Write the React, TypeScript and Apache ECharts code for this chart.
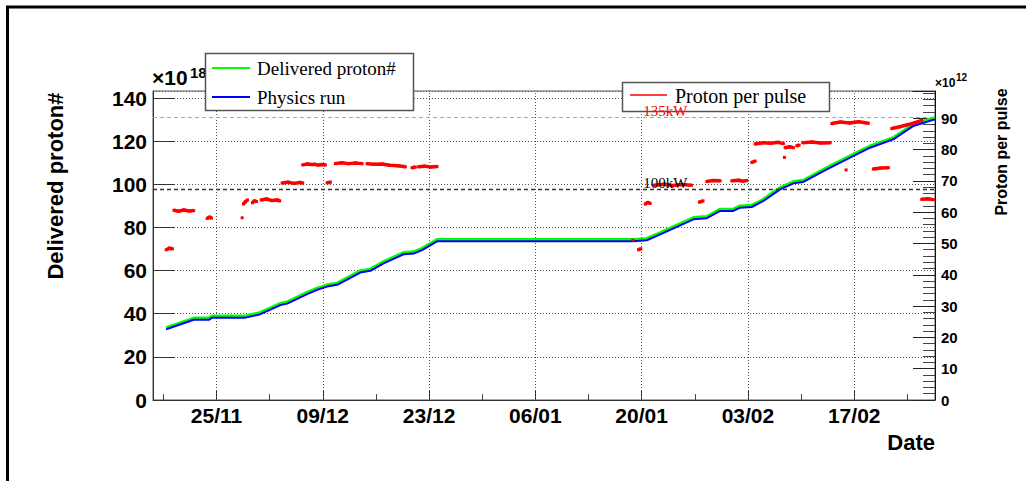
import React, { useEffect, useRef } from "react";
import * as echarts from "echarts";

// x values are days counted from 25/11/2010
const X_MIN = -8.36;
const X_MAX = 94.64;
const TICK_DAYS = [0, 14, 28, 42, 56, 70, 84];
const TICK_LABELS = ["25/11", "09/12", "23/12", "06/01", "20/01", "03/02", "17/02"];
const MINOR_TICK_DAYS = [-7, 7, 21, 35, 49, 63, 77, 91];

const LEFT_MAX = 143.3;
const RIGHT_MAX = 98.7;

// Delivered proton# (x10^18)
const deliveredProtons: [number, number][] = [
  [-6.62, 33.6], [-2.99, 38.0], [-1.01, 38.0], [-0.57, 39.0], [3.82, 39.0], [5.79, 40.6],
  [8.42, 44.8], [9.31, 45.5], [11.94, 49.9], [13.26, 51.9], [14.57, 53.4], [15.89, 54.2],
  [18.95, 59.9], [20.27, 60.7], [22.02, 64.2], [24.65, 68.4], [25.97, 68.7], [27.08, 70.3],
  [29.05, 74.4], [54.89, 74.4], [56.69, 74.9], [58.01, 76.9], [60.64, 81.1], [62.83, 84.6],
  [64.59, 85.1], [66.34, 88.5], [68.09, 88.5], [68.97, 90.0], [70.51, 90.3], [72.04, 93.1],
  [74.24, 98.5], [75.99, 101.3], [77.31, 101.9], [80.39, 107.8], [84.77, 115.5], [86.09, 117.8],
  [89.15, 121.7], [91.79, 127.9], [94.64, 131.0],
];

// Physics run (x10^18)
const physicsRun: [number, number][] = [
  [-6.62, 32.8], [-2.99, 37.2], [-1.01, 37.2], [-0.57, 38.2], [3.82, 38.2], [5.79, 39.8],
  [8.42, 44.0], [9.31, 44.7], [11.94, 49.1], [13.26, 51.1], [14.57, 52.6], [15.89, 53.4],
  [18.95, 59.1], [20.27, 59.9], [22.02, 63.4], [24.65, 67.6], [25.97, 67.9], [27.08, 69.5],
  [29.05, 73.6], [54.89, 73.6], [56.69, 74.1], [58.01, 76.1], [60.64, 80.3], [62.83, 83.8],
  [64.59, 84.3], [66.34, 87.7], [68.09, 87.7], [68.97, 89.2], [70.51, 89.5], [72.04, 92.3],
  [74.24, 97.7], [75.99, 100.5], [77.31, 101.1], [80.39, 107.0], [84.77, 114.7], [86.09, 117.0],
  [89.15, 120.9], [91.79, 127.1], [94.64, 130.2],
];

// Proton per pulse (x10^12), groups of consecutive spills
const protonPerPulse: [number, number][][] = [
  [[-6.62, 48.0], [-6.2, 48.5], [-5.8, 48.3]],
  [[-5.6, 60.6], [-5.0, 60.3], [-4.3, 60.7], [-3.6, 60.4], [-3.0, 60.5]],
  [[-1.22, 58.0], [-0.9, 58.4], [-0.66, 58.1]],
  [[3.38, 58.2]],
  [[3.55, 62.6], [3.8, 63.3], [4.08, 63.9]],
  [[4.74, 63.0], [5.0, 63.6], [5.27, 63.4]],
  [[5.88, 63.9], [6.6, 64.2], [7.3, 63.7], [8.0, 63.9], [8.33, 63.6]],
  [[8.65, 69.3], [9.4, 69.6], [10.2, 69.2], [11.0, 69.5], [11.36, 69.3]],
  [[11.36, 75.1], [12.0, 75.4], [12.6, 75.2], [13.03, 75.3]],
  [[13.26, 75.0], [13.8, 75.2], [14.35, 75.1]],
  [[14.57, 69.4], [15.01, 69.6]],
  [[15.66, 75.5], [16.5, 75.8], [17.4, 75.5], [18.3, 75.7], [19.18, 75.5]],
  [[19.84, 75.5], [20.8, 75.3], [21.8, 75.4], [22.8, 75.0], [23.9, 74.8], [24.88, 74.5]],
  [[25.76, 74.2], [26.2, 74.4]],
  [[26.63, 74.5], [27.4, 74.7], [28.2, 74.4], [29.05, 74.6]],
  [[54.85, 51.1]],
  [[55.59, 48.0], [55.9, 48.3]],
  [[56.47, 62.6], [56.8, 63.1], [57.13, 62.8]],
  [[57.69, 68.6], [58.9, 68.9], [60.1, 68.5], [61.3, 68.8], [62.56, 68.6]],
  [[63.61, 63.2], [64.09, 63.6]],
  [[64.59, 69.8], [65.4, 70.1], [66.34, 70.0]],
  [[67.88, 70.0], [68.8, 70.2], [69.3, 69.9], [69.86, 70.1]],
  [[70.51, 75.9], [70.95, 76.3]],
  [[70.95, 81.8], [72.0, 82.2], [73.0, 82.0], [74.0, 82.3], [74.67, 81.9]],
  [[74.81, 77.5]],
  [[74.9, 80.6], [75.5, 80.9], [75.99, 80.6]],
  [[76.44, 81.2], [76.74, 81.4]],
  [[77.23, 82.2], [78.4, 82.4], [79.6, 82.1], [80.83, 82.2]],
  [[81.05, 88.3], [82.2, 88.8], [83.4, 88.5], [84.6, 88.9], [85.86, 88.4]],
  [[82.93, 73.5]],
  [[86.52, 73.8], [87.5, 74.1], [88.5, 74.2]],
  [[88.94, 86.7], [90.0, 87.3], [91.0, 87.9], [92.0, 88.6], [92.89, 89.3]],
  [[92.89, 64.1], [93.7, 64.3], [94.42, 64.0]],
];

const KW135 = 90.3;
const KW100 = 67.2;
const KW_LABEL_DAY = 56.2;

const SANS = '"Liberation Sans", Arial, sans-serif';
const SERIF = '"Liberation Serif", "Times New Roman", serif';

const PLOT_TOP = 91;
const PLOT_BOTTOM = 81;
const CHART_H = 481;
const MINOR_TICK_PX = 6;

export default function App() {
  const ref = useRef<HTMLDivElement>(null);

  useEffect(() => {
    if (!ref.current) return;
    const chart = echarts.init(ref.current, null, { renderer: "svg" });

    const redData: any[] = [];
    protonPerPulse.forEach((grp, i) => {
      if (i > 0) redData.push([grp[0][0], "-"]);
      grp.forEach((p) => redData.push(p));
    });

    const unitsPerPx = LEFT_MAX / (CHART_H - PLOT_TOP - PLOT_BOTTOM);
    const minorLen = MINOR_TICK_PX * unitsPerPx;

    const dotted = { color: "#555", width: 1, type: [1, 2] as any };
    const hidden = { show: false, lineStyle: { opacity: 0, width: 0 } };

    chart.setOption({
      animation: false,
      backgroundColor: "#ffffff",
      grid: {
        left: 153,
        right: 91,
        top: PLOT_TOP,
        bottom: PLOT_BOTTOM,
        show: true,
        borderColor: "#555",
        borderWidth: 1,
        backgroundColor: "transparent",
        outerBoundsMode: "none",
      },
      xAxis: {
        type: "value",
        min: X_MIN,
        max: X_MAX,
        position: "bottom",
        axisLine: { show: true, onZero: false, lineStyle: { color: "#333", width: 1 } },
        axisTick: {
          show: true,
          inside: true,
          length: 10,
          customValues: TICK_DAYS,
          lineStyle: { color: "#222", width: 1 },
        },
        axisLabel: {
          show: true,
          customValues: TICK_DAYS,
          margin: 5,
          color: "#000",
          fontFamily: SANS,
          fontWeight: "bold",
          fontSize: 21,
          formatter: (v: number) => {
            const i = TICK_DAYS.indexOf(Math.round(v));
            return i >= 0 ? TICK_LABELS[i] : "";
          },
        },
        splitLine: hidden,
        minorSplitLine: hidden,
        splitArea: { show: false },
      },
      yAxis: [
        {
          type: "value",
          min: 0,
          max: LEFT_MAX,
          interval: 20,
          position: "left",
          axisLine: { show: true, onZero: false, lineStyle: { color: "#333", width: 1 } },
          axisTick: { show: true, inside: true, length: 22, lineStyle: { color: "#333", width: 1 } },
          axisLabel: {
            margin: 6,
            color: "#000",
            fontFamily: SANS,
            fontWeight: "bold",
            fontSize: 21,
            showMaxLabel: false,
          },
          splitLine: { show: true, lineStyle: dotted },
        },
        {
          type: "value",
          min: 0,
          max: RIGHT_MAX,
          interval: 10,
          position: "right",
          axisLine: { show: true, onZero: false, lineStyle: { color: "#111", width: 1 } },
          axisTick: { show: true, inside: true, length: 22, lineStyle: { color: "#222", width: 1 } },
          minorTick: { show: true, splitNumber: 5, length: 12, lineStyle: { color: "#444", width: 1 } },
          axisLabel: {
            margin: 6,
            color: "#000",
            fontFamily: SANS,
            fontWeight: "bold",
            fontSize: 15,
            showMaxLabel: false,
          },
          splitLine: hidden,
        },
      ],
      series: [
        {
          name: "Delivered proton#",
          type: "line",
          yAxisIndex: 0,
          data: deliveredProtons,
          showSymbol: false,
          lineStyle: { color: "#00ff00", width: 3 },
          itemStyle: { color: "#00ff00" },
          z: 3,
          markLine: {
            silent: true,
            symbol: ["none", "none"],
            label: { show: false },
            lineStyle: { color: "#555", width: 1, type: [1, 2] },
            data: TICK_DAYS.map((d) => ({ xAxis: d })),
            z: 1,
          },
        },
        {
          name: "Physics run",
          type: "line",
          yAxisIndex: 0,
          data: physicsRun,
          showSymbol: false,
          lineStyle: { color: "#0000ff", width: 2 },
          itemStyle: { color: "#0000ff" },
          z: 4,
          markLine: {
            silent: true,
            symbol: ["none", "none"],
            label: { show: false },
            lineStyle: { color: "#444", width: 1, type: "solid" },
            data: MINOR_TICK_DAYS.map((d) => [{ coord: [d, 0] }, { coord: [d, minorLen] }]),
            z: 1,
          },
        },
        {
          name: "Proton per pulse",
          type: "line",
          yAxisIndex: 1,
          data: redData,
          connectNulls: false,
          showSymbol: true,
          symbol: "rect",
          symbolSize: 3,
          lineStyle: { color: "#ff0000", width: 3.5 },
          itemStyle: { color: "#ff0000" },
          z: 5,
          markLine: {
            silent: true,
            symbol: ["none", "none"],
            label: { show: false },
            data: [
              { yAxis: KW135, lineStyle: { color: "#ff8080", width: 1, type: [4, 3] } },
              { yAxis: KW100, lineStyle: { color: "#333", width: 1.3, type: [4, 3] } },
            ],
          },
        },
      ],
    });

    const p135 = chart.convertToPixel({ seriesIndex: 2 }, [KW_LABEL_DAY, KW135]) as number[];
    const p100 = chart.convertToPixel({ seriesIndex: 2 }, [KW_LABEL_DAY, KW100]) as number[];

    const txt = (x: number, y: number, text: string, font: string, fill: string, align: string, valign: string, extra: any = {}) => ({
      type: "text",
      x,
      y,
      ...extra,
      style: { text, font, fill, textAlign: align, textVerticalAlign: valign, align, verticalAlign: valign },
    });

    chart.setOption({
      graphic: [
        // outer frame
        { type: "line", shape: { x1: 6, y1: 7, x2: 1026, y2: 7 }, style: { stroke: "#000", lineWidth: 3 }, z: 50 },
        { type: "line", shape: { x1: 7.5, y1: 6, x2: 7.5, y2: 481 }, style: { stroke: "#000", lineWidth: 3 }, z: 50 },
        // axis titles
        txt(55, 186, "Delivered proton#", `bold 22px ${SANS}`, "#000", "center", "middle", { rotation: Math.PI / 2 }),
        txt(1001, 152, "Proton per pulse", `bold 16px ${SANS}`, "#000", "center", "middle", { rotation: Math.PI / 2 }),
        txt(935, 442, "Date", `bold 22px ${SANS}`, "#000", "right", "middle"),
        // exponents
        txt(152, 88, "\u00d710", `bold 21px ${SANS}`, "#000", "left", "bottom", { z: 10 }),
        txt(190, 80, "18", `bold 15px ${SANS}`, "#000", "left", "bottom", { z: 10 }),
        txt(935, 89, "\u00d710", `bold 12px ${SANS}`, "#000", "left", "bottom", { z: 10 }),
        txt(956, 82, "12", `bold 10px ${SANS}`, "#000", "left", "bottom", { z: 10 }),
        // legend 1
        { type: "rect", shape: { x: 205.5, y: 53.5, width: 208, height: 57 }, style: { fill: "#fff", stroke: "#555", lineWidth: 1.5 }, z: 30 },
        { type: "line", shape: { x1: 212, y1: 68, x2: 250, y2: 68 }, style: { stroke: "#00ff00", lineWidth: 2 }, z: 31 },
        txt(257, 68, "Delivered proton#", `19px ${SERIF}`, "#000", "left", "middle", { z: 31 }),
        { type: "line", shape: { x1: 212, y1: 97, x2: 250, y2: 97 }, style: { stroke: "#0000ff", lineWidth: 2 }, z: 31 },
        txt(257, 97, "Physics run", `19px ${SERIF}`, "#000", "left", "middle", { z: 31 }),
        // legend 2
        { type: "rect", shape: { x: 622.5, y: 82.5, width: 207, height: 29 }, style: { fill: "#fff", stroke: "#555", lineWidth: 1.5 }, z: 30 },
        { type: "line", shape: { x1: 630, y1: 95, x2: 667, y2: 95 }, style: { stroke: "#ff0000", lineWidth: 1.5 }, z: 31 },
        txt(675, 96, "Proton per pulse", `20px ${SERIF}`, "#000", "left", "middle", { z: 31 }),
        // beam power labels
        txt(p135[0], p135[1] + 1, "135kW", `15px ${SERIF}`, "#ff0000", "left", "bottom", { z: 40 }),
        txt(p100[0], p100[1] + 1, "100kW", `15px ${SERIF}`, "#000", "left", "bottom", { z: 40 }),
      ],
    });

    return () => chart.dispose();
  }, []);

  return (
    <div ref={ref} style={{ position: "fixed", left: 0, top: 0, width: 1026, height: 481, background: "#fff" }} />
  );
}
